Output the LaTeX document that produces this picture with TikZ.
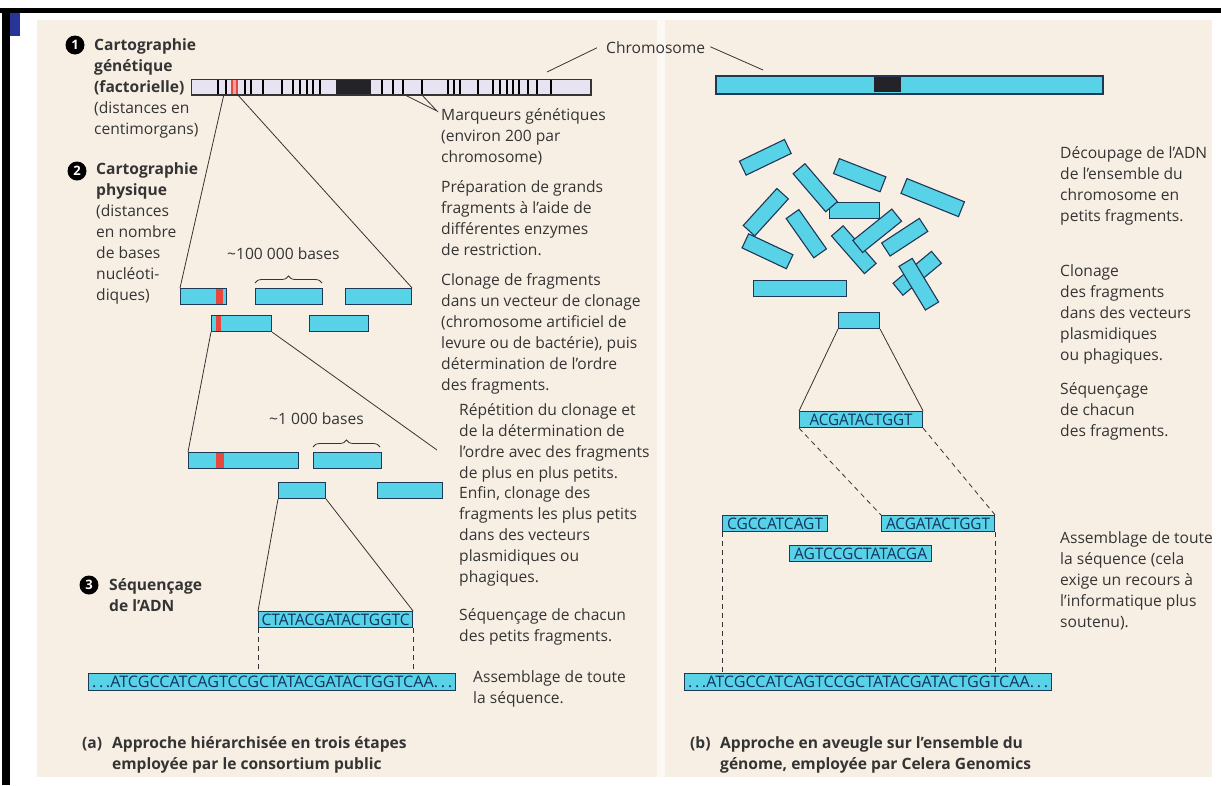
\documentclass[tikz,border=0pt]{standalone}
\usepackage{fontspec}
\setmainfont{Open Sans}
\usetikzlibrary{decorations.pathreplacing}

\definecolor{paper}{RGB}{248,239,228}
\definecolor{strip}{RGB}{252,249,244}
\definecolor{ink}{RGB}{52,52,52}
\definecolor{cyanfrag}{RGB}{88,210,230}
\definecolor{fragline}{RGB}{30,56,86}
\definecolor{seqink}{RGB}{18,52,96}
\definecolor{lavender}{RGB}{231,227,241}
\definecolor{bandred}{RGB}{232,72,60}
\definecolor{bandpink}{RGB}{240,160,160}
\definecolor{centro}{RGB}{36,36,40}
\definecolor{markblue}{RGB}{40,52,150}

% strut that fixes the top of a text block 15pt above its first baseline
\newcommand\topln{\rule{0pt}{15pt}}
% sequence lettering stretched to the width of its box
\newcommand\seqtxt[2]{\resizebox{#1}{11.5pt}{#2}}

\tikzset{
  txt/.style={anchor=north west, inner sep=0pt, align=left, text=ink,
    font=\fontsize{15.6}{21}\selectfont},
  numc/.style={circle, fill=black, text=white, inner sep=0pt, minimum size=19pt,
    font=\bfseries\fontsize{13}{13}\selectfont},
  frag/.style={draw=fragline, fill=cyanfrag, line width=1.1pt, inner sep=0pt,
    minimum height=16pt},
  fragbox/.style={frag, anchor=north west, text=seqink},
  rfrag/.style={frag, minimum height=15.5pt},
  % red marker band at a given distance from the left end of a fragment
  redband/.style 2 args={path picture={
    \fill[bandred] ([xshift=#1]path picture bounding box.north west)
      rectangle ([xshift=#2]path picture bounding box.south west);}},
  conn/.style={draw=ink, line width=0.8pt},
  dashline/.style={draw=ink, line width=0.8pt, dash pattern=on 5pt off 4pt},
  brc/.style={draw=ink, line width=0.8pt, decorate,
    decoration={brace, amplitude=7pt}},
}

\begin{document}
\begin{tikzpicture}[x=1pt,y=-1pt]
\useasboundingbox (0,0) rectangle (1221,785);

% page, panels and frame
\fill[white] (0,0) rectangle (1221,785);
\fill[paper] (37,20) rectangle (657,777);
\fill[strip] (657,20) rectangle (665,777);
\fill[paper] (665,20) rectangle (1212,777);
\fill[black] (0,8) rectangle (1221,13);
\fill[black] (2,8) rectangle (10,785);
\fill[markblue] (10,13) rectangle (20,36);

% ---------------- panel (a) ----------------
\node[numc] (n1) at (75,45) {1};
\node[txt] (t1) at (94,35) {\topln\textbf{Cartographie}\\\textbf{génétique}\\\textbf{(factorielle)}\\(distances en\\centimorgans)};

% genetic map of the chromosome
\node[draw=ink, fill=lavender, line width=1pt, minimum width=399pt, minimum height=15pt,
  inner sep=0pt, anchor=north west] (chrL) at (191,79) {};
\fill[centro] (336,79) rectangle (371,94);
\fill[bandpink] (231,79.5) rectangle (237,93.5);
\foreach \b in {218,226,245,251,263,282,293,300,307,313,320,382,393,403,422,448,454,460,478,493,500,507,513,519,528,537,551}
  \draw[line width=2.3pt] (\b,79.5) -- (\b,93.5);
\draw[bandred, line width=2pt] (231.5,79.5) -- (231.5,93.5) (236.5,79.5) -- (236.5,93.5);
\draw[ink, line width=1pt] (chrL.north west) rectangle (chrL.south east);

% chromosome label
\node[txt] (chromlab) at (606,38) {\topln Chromosome};
\coordinate (pL) at (547,72);
\coordinate (pR) at (763,70);
\draw[conn] ([xshift=-9pt,yshift=-2pt]chromlab.west) -- (pL);
\draw[conn] ([xshift=5pt,yshift=-1pt]chromlab.east) -- (pR);

% genetic markers
\node[txt] (mq) at (441,105) {\topln Marqueurs génétiques\\(environ 200 par\\chromosome)};
\coordinate (mk1) at (403,94);
\coordinate (mk2) at (421,94);
\coordinate (mqtip) at (437,111);
\draw[conn] (mk1) -- (mqtip) -- (mk2);

% physical map
\node[numc] (n2) at (77,171) {2};
\node[txt] (t2) at (96,159) {\topln\textbf{Cartographie}\\\textbf{physique}\\(distances\\en nombre\\de bases\\nucléoti-\\diques)};

\node[txt] (b100) at (227,244) {\topln{\char"007E}100 000 bases};
\draw[brc] (255,283) -- (322,283);

\node[fragbox, minimum width=46pt, redband={35pt}{42pt}] (A) at (180,288) {};
\node[fragbox, minimum width=67pt] (B) at (255,288) {};
\node[fragbox, minimum width=66pt] (C) at (345,288) {};
\node[fragbox, minimum width=60pt, redband={4pt}{9pt}] (D) at (211,315) {};
\node[fragbox, minimum width=59pt] (E) at (309,315) {};

\coordinate (redL) at (224,94);
\coordinate (redR) at (237,94);
\draw[conn] (redL) -- (A.north west);
\draw[conn] (redR) -- (C.north east);

% smaller fragments
\node[txt] (b1000) at (269,409) {\topln{\char"007E}1 000 bases};
\draw[brc] (313,447) -- (380,447);

\node[fragbox, minimum width=110pt, redband={27pt}{35pt}] (F) at (188,452) {};
\node[fragbox, minimum width=68pt] (G) at (313,452) {};
\node[fragbox, minimum width=47pt] (H) at (278,482) {};
\node[fragbox, minimum width=65pt] (I) at (377,482) {};

\coordinate (zoomR) at (437,450);
\draw[conn] (D.south west) -- (F.north west);
\draw[conn] (D.south east) -- (zoomR);

% sequencing
\node[numc] (n3) at (89,585) {3};
\node[txt] (t3) at (109,575) {\topln\textbf{Séquençage}\\\textbf{de l’ADN}};

\node[fragbox, minimum width=154pt] (S1) at (258,611) {\seqtxt{148pt}{CTATACGATACTGGTC}};
\node[fragbox, minimum width=367pt, minimum height=17pt] (L1) at (88,673)
  {\seqtxt{360pt}{.\,.\,.ATCGCCATCAGTCCGCTATACGATACTGGTCAA.\,.\,.}};
\draw[conn] (H.south west) -- (S1.north west);
\draw[conn] (H.south east) -- (S1.north east);
\draw[dashline] (S1.south west) -- (S1.south west |- L1.north);
\draw[dashline] (S1.south east) -- (S1.south east |- L1.north);

% explanatory column
\node[txt] (prep) at (441,177) {\topln Préparation de grands\\fragments à l’aide de\\différentes enzymes\\de restriction.};
\node[txt] (clon) at (441,270) {\topln Clonage de fragments\\dans un vecteur de clonage\\(chromosome artificiel de\\levure ou de bactérie), puis\\détermination de l’ordre\\des fragments.};
\node[txt] (rep) at (459,400) {\topln Répétition du clonage et\\de la détermination de\\l’ordre avec des fragments\\de plus en plus petits.};
\node[txt] (enfin) at (459,483) {\topln Enfin, clonage des\\fragments les plus petits\\dans des vecteurs\\plasmidiques ou\\phagiques.};
\node[txt] (seqc) at (459,605) {\topln Séquençage de chacun\\des petits fragments.};
\node[txt] (assL) at (473,667) {\topln Assemblage de toute\\la séquence.};

\node[txt, font=\bfseries\fontsize{15.6}{21}\selectfont] (capa) at (82,733) {\topln(a)};
\node[txt, font=\bfseries\fontsize{15.6}{21}\selectfont] (capA) at (112,733) {\topln Approche hiérarchisée en trois étapes\\employée par le consortium public};

% ---------------- panel (b) ----------------
\node[frag, minimum width=386pt, minimum height=17pt, anchor=north west] (chrR) at (716,76) {};
\fill[centro] (874,76.6) rectangle (901,92.4);
\draw[fragline, line width=1.1pt] (chrR.north west) rectangle (chrR.south east);

% shotgun fragments
\node[rfrag, minimum width=50pt, rotate=25.7] (fa) at (765.3,157.3) {};
\node[rfrag, minimum width=50pt, minimum height=16pt, rotate=-21.4] (fc) at (859.7,175.2) {};
\node[rfrag, minimum width=62pt, minimum height=16pt, rotate=-22] (fd) at (932.7,197.6) {};
\node[frag, minimum width=50pt, anchor=north west] (fe) at (829,202) {};
\node[rfrag, minimum width=50pt, rotate=-49.4] (fb) at (815.3,187.7) {};
\node[rfrag, minimum width=49pt, rotate=-25.2] (fh) at (767.5,251.3) {};
\node[rfrag, minimum width=50pt, rotate=47.7] (ff) at (765.8,212.2) {};
\node[rfrag, minimum width=48pt, rotate=-54.9] (fg) at (806.3,233.7) {};
\node[rfrag, minimum width=50pt, rotate=-48.8] (fi) at (853.8,249.7) {};
\node[rfrag, minimum width=50pt, rotate=38.8] (fj) at (877.2,230.8) {};
\node[rfrag, minimum width=45pt, rotate=33.2] (fk) at (904.7,237.2) {};
\node[rfrag, minimum width=50pt, rotate=39.7] (fl) at (917.2,273.3) {};
\node[rfrag, minimum width=51pt, rotate=-58.8] (fm) at (918.8,284.2) {};
\node[frag, minimum width=93pt, anchor=north west] (fn) at (753,280) {};
\node[frag, minimum width=41pt, anchor=north west] (fo) at (838,312) {};

% sequenced fragment and assembly
\node[fragbox, minimum width=123pt] (R1) at (799,411) {\seqtxt{103pt}{ACGATACTGGT}};
\draw[conn] (fo.south west) -- (R1.north west);
\draw[conn] (fo.south east) -- (R1.north east);

\node[fragbox, minimum width=105pt] (R2a) at (722,515) {\seqtxt{96pt}{CGCCATCAGT}};
\node[fragbox, minimum width=113pt] (R2b) at (881,515) {\seqtxt{104pt}{ACGATACTGGT}};
\node[fragbox, minimum width=142pt] (R3) at (789,545) {\seqtxt{133pt}{AGTCCGCTATACGA}};
\node[fragbox, minimum width=367pt, minimum height=17pt] (L2) at (684,673)
  {\seqtxt{360pt}{.\,.\,.ATCGCCATCAGTCCGCTATACGATACTGGTCAA.\,.\,.}};

\draw[dashline] (R1.south west) -- (R2b.north west);
\draw[dashline] (R1.south east) -- (R2b.north east);
\draw[dashline] (R2a.south west) -- (R2a.south west |- L2.north);
\draw[dashline] (R2b.south east) -- (R2b.south east |- L2.north);

% explanatory column
\node[txt] (dec) at (1060,143) {\topln Découpage de l’ADN\\de l’ensemble du\\chromosome en\\petits fragments.};
\node[txt] (clonR) at (1060,261) {\topln Clonage\\des fragments\\dans des vecteurs\\plasmidiques\\ou phagiques.};
\node[txt] (seqR) at (1060,379) {\topln Séquençage\\de chacun\\des fragments.};
\node[txt] (assR) at (1060,528) {\topln Assemblage de toute\\la séquence (cela\\exige un recours à\\l’informatique plus\\soutenu).};

\node[txt, font=\bfseries\fontsize{15.6}{21}\selectfont] (capb) at (690,733) {\topln(b)};
\node[txt, font=\bfseries\fontsize{15.6}{21}\selectfont] (capB) at (720,733) {\topln Approche en aveugle sur l’ensemble du\\génome, employée par Celera Genomics};
\end{tikzpicture}
\end{document}
